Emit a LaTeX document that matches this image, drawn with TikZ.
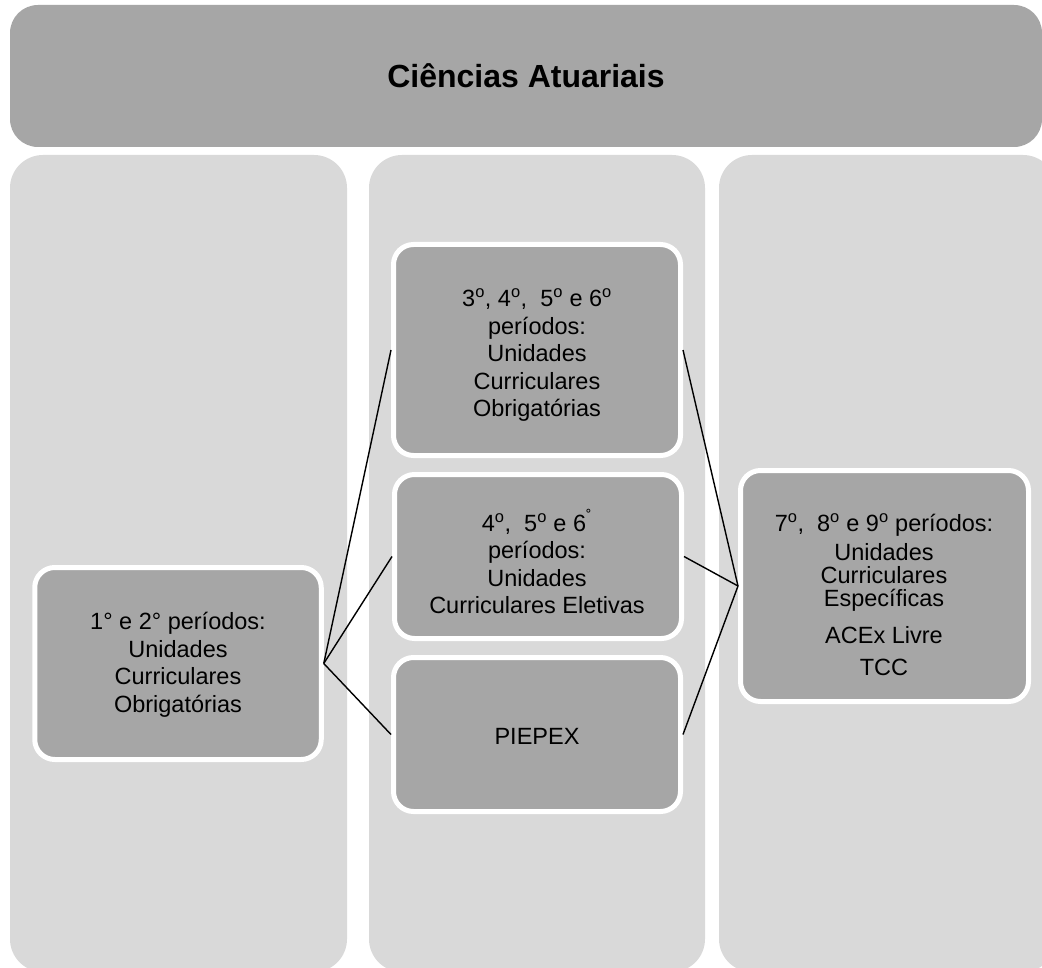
\documentclass[tikz,border=0pt]{standalone}
\usepackage{fontspec}
\setmainfont{Liberation Sans}
\definecolor{bandgray}{HTML}{A6A6A6}
\definecolor{colgray}{HTML}{D9D9D9}
\begin{document}
\begin{tikzpicture}[x=1pt,y=-1pt,
  column/.style={draw=none, fill=colgray, rounded corners=33pt, inner sep=0pt, minimum height=817pt},
  banner/.style={draw=none, fill=bandgray, rounded corners=28pt, inner sep=0pt,
    minimum width=1032pt, minimum height=142pt, font=\fontsize{32}{36}\selectfont\bfseries},
  stagebox/.style={draw=white, line width=5pt, fill=bandgray, rounded corners=20pt, inner sep=0pt},
  stagetext/.style={align=center, inner sep=0pt, font=\fontsize{23.5}{27.5}\selectfont},
  conn/.style={draw=black, line width=1.4pt}]
\useasboundingbox (0,0) rectangle (1042,968);
\clip (0,0) rectangle (1042,968);
\fill[white] (0,0) rectangle (1042,968);
% columns
\node[column, minimum width=337pt] (col1) at (178.5,563.5) {};
\node[column, minimum width=336pt] (col2) at (537,563.5) {};
\node[column, minimum width=337pt] (col3) at (887.5,563.5) {};
% banner
\node[banner] (title) at (526,76) {Ciências Atuariais};
% stage boxes
\node[stagebox, minimum width=286.5pt, minimum height=192pt] (b1) at (178,663.5) {};
\node[stagebox, minimum width=287pt, minimum height=211pt] (b2) at (537,350) {};
\node[stagebox, minimum width=287pt, minimum height=164pt] (b3) at (538,556.5) {};
\node[stagebox, minimum width=287pt, minimum height=154pt] (b4) at (537,734.5) {};
\node[stagebox, minimum width=288pt, minimum height=231pt] (b5) at (884.5,586) {};
% texts
\node[stagetext] (t1) at (178,665) {1° e 2° períodos:\\Unidades\\Curriculares\\Obrigatórias};
\node[stagetext] (t2) at (537,355) {3\textsuperscript{o}, 4\textsuperscript{o},\ \ 5\textsuperscript{o} e 6\textsuperscript{o}\\períodos:\\Unidades\\Curriculares\\Obrigatórias};
\node[stagetext] (t3) at (537,561.5) {4\textsuperscript{o},\ \ 5\textsuperscript{o} e 6\textsuperscript{˚}\\períodos:\\Unidades\\Curriculares Eletivas};
\node[stagetext] (t4) at (537,736) {PIEPEX};
\node[stagetext, font=\fontsize{23.5}{23}\selectfont] (t5) at (884,595) {7\textsuperscript{o},\ \ 8\textsuperscript{o} e 9\textsuperscript{o} períodos:\\[6pt]Unidades\\Curriculares\\Específicas\\[14pt]ACEx Livre\\[9pt]TCC};
% connectors
\draw[conn] (b1.east) -- (b2.west);
\draw[conn] (b1.east) -- (b3.west);
\draw[conn] (b1.east) -- (b4.west);
\draw[conn] (b2.east) -- (b5.west);
\draw[conn] (b3.east) -- (b5.west);
\draw[conn] (b4.east) -- (b5.west);
\end{tikzpicture}
\end{document}
